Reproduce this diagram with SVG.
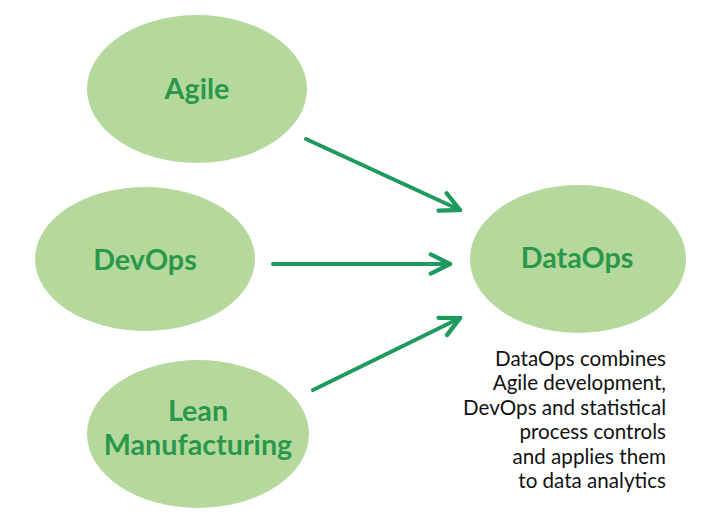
<svg xmlns="http://www.w3.org/2000/svg" width="711" height="528" viewBox="0 0 711 528">
<style>
.node{fill:#b5d99c;}
.lbl{font-family:Lato,"Open Sans",sans-serif;font-weight:bold;font-size:28.7px;fill:#2a984b;text-anchor:middle;}
.desc{font-family:Lato,"Open Sans",sans-serif;font-size:20.6px;fill:#111;text-anchor:end;}
.conn{stroke:#1f9a5e;stroke-width:4;fill:none;stroke-linecap:round;}
</style>
<defs>
<marker id="arr" viewBox="0 0 10 10" refX="9" refY="5" markerWidth="6" markerHeight="6" orient="auto" markerUnits="strokeWidth">
<path d="M1,1 L9,5 L1,9" fill="none" stroke="#1f9a5e" stroke-width="1.8" stroke-linecap="round" stroke-linejoin="miter"/>
</marker>
</defs>
<rect width="711" height="528" fill="#fff"/>
<g id="connectors">
<line class="conn" x1="306" y1="139" x2="460" y2="210" marker-end="url(#arr)"/>
<line class="conn" x1="273" y1="264" x2="450" y2="264" marker-end="url(#arr)"/>
<line class="conn" x1="313" y1="390" x2="460" y2="318" marker-end="url(#arr)"/>
</g>
<g id="agile">
<ellipse class="node" cx="197" cy="89" rx="110" ry="74"/>
<text class="lbl" x="197" y="99">Agile</text>
</g>
<g id="devops">
<ellipse class="node" cx="145" cy="259" rx="110" ry="72"/>
<text class="lbl" x="145" y="270">DevOps</text>
</g>
<g id="lean">
<ellipse class="node" cx="198" cy="434" rx="111" ry="74"/>
<text class="lbl" x="198" y="421">Lean</text>
<text class="lbl" x="198" y="455">Manufacturing</text>
</g>
<g id="dataops">
<ellipse class="node" cx="578" cy="259" rx="108" ry="74"/>
<text class="lbl" x="577" y="268">DataOps</text>
</g>
<g id="description">
<text class="desc" x="666" y="366">DataOps combines</text>
<text class="desc" x="666" y="390.4">Agile development,</text>
<text class="desc" x="666" y="414.8">DevOps and statistical</text>
<text class="desc" x="666" y="439.2">process controls</text>
<text class="desc" x="666" y="463.6">and applies them</text>
<text class="desc" x="666" y="488">to data analytics</text>
</g>
</svg>
